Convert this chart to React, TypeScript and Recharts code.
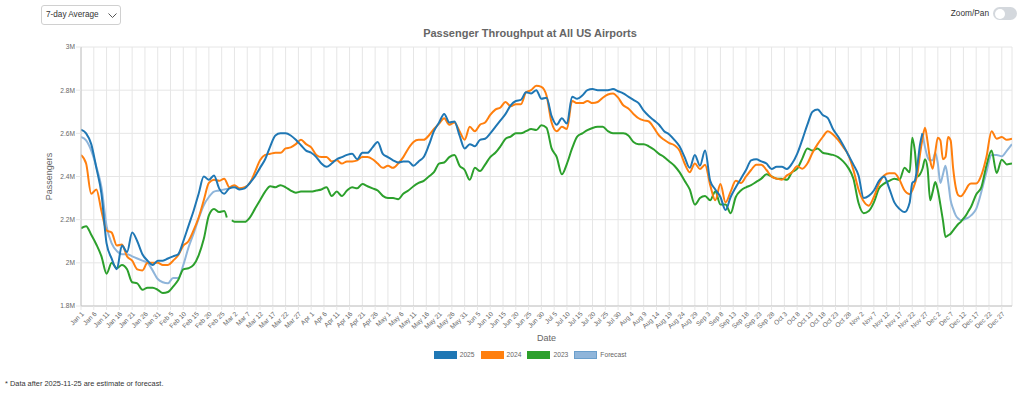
import React from 'react';
import { LineChart, Line, XAxis, YAxis, CartesianGrid, Legend } from 'recharts';

// ---------- axis data ----------
const tickDays = [0, 5, 10, 15, 20, 25, 30, 35, 40, 45, 50, 55, 60, 65, 70, 75, 80, 85, 90, 95, 100, 105, 110, 115, 120, 125, 130, 135, 140, 145, 150, 155, 160, 165, 170, 175, 180, 185, 190, 195, 200, 205, 210, 215, 220, 225, 230, 235, 240, 245, 250, 255, 260, 265, 270, 275, 280, 285, 290, 295, 300, 305, 310, 315, 320, 325, 330, 335, 340, 345, 350, 355, 360];
const tickLabels = [
  'Jan 1', 'Jan 6', 'Jan 11', 'Jan 16', 'Jan 21', 'Jan 26', 'Jan 31',
  'Feb 5', 'Feb 10', 'Feb 15', 'Feb 20', 'Feb 25',
  'Mar 2', 'Mar 7', 'Mar 12', 'Mar 17', 'Mar 22', 'Mar 27',
  'Apr 1', 'Apr 6', 'Apr 11', 'Apr 16', 'Apr 21', 'Apr 26',
  'May 1', 'May 6', 'May 11', 'May 16', 'May 21', 'May 26', 'May 31',
  'Jun 5', 'Jun 10', 'Jun 15', 'Jun 20', 'Jun 25', 'Jun 30',
  'Jul 5', 'Jul 10', 'Jul 15', 'Jul 20', 'Jul 25', 'Jul 30',
  'Aug 4', 'Aug 9', 'Aug 14', 'Aug 19', 'Aug 24', 'Aug 29',
  'Sep 3', 'Sep 8', 'Sep 13', 'Sep 18', 'Sep 23', 'Sep 28',
  'Oct 3', 'Oct 8', 'Oct 13', 'Oct 18', 'Oct 23', 'Oct 28',
  'Nov 2', 'Nov 7', 'Nov 12', 'Nov 17', 'Nov 22', 'Nov 27',
  'Dec 2', 'Dec 7', 'Dec 12', 'Dec 17', 'Dec 22', 'Dec 27',
];
const yTicks = [1.8, 2, 2.2, 2.4, 2.6, 2.8, 3];

// ---------- series data: [day of year (0 = Jan 1), passengers in millions] ----------
const pax2025: [number, number][] = [
  [0, 2.617], [2, 2.6], [4, 2.55], [6, 2.44], [8, 2.32], [10, 2.09], [12, 2.02], [14, 1.97], [16, 2.08], [18, 2.05],
  [20, 2.14], [22, 2.1], [24, 2.04], [26, 2.01], [28, 1.99], [30, 2.01], [32, 2.01], [34, 2.02], [36, 2.03], [38, 2.04],
  [40, 2.1], [42, 2.17], [44, 2.24], [46, 2.32], [48, 2.4], [50, 2.385], [52, 2.405], [54, 2.345], [56, 2.32], [58, 2.345],
  [60, 2.35], [62, 2.34], [64, 2.345], [66, 2.37], [68, 2.4], [70, 2.44], [72, 2.48], [74, 2.54], [76, 2.59], [78, 2.6],
  [80, 2.6], [82, 2.59], [84, 2.57], [86, 2.545], [88, 2.52], [90, 2.51], [92, 2.49], [94, 2.46], [96, 2.445], [98, 2.46],
  [100, 2.48], [102, 2.49], [104, 2.5], [106, 2.505], [108, 2.48], [110, 2.51], [112, 2.51], [114, 2.535], [116, 2.56], [118, 2.505],
  [120, 2.49], [122, 2.475], [124, 2.465], [126, 2.47], [128, 2.47], [130, 2.45], [132, 2.47], [134, 2.49], [136, 2.545], [138, 2.61],
  [140, 2.65], [142, 2.69], [144, 2.65], [146, 2.655], [148, 2.59], [150, 2.53], [152, 2.55], [154, 2.54], [156, 2.57], [158, 2.575],
  [160, 2.6], [162, 2.63], [164, 2.66], [166, 2.69], [168, 2.73], [170, 2.75], [172, 2.755], [174, 2.79], [176, 2.785], [178, 2.8],
  [180, 2.76], [182, 2.765], [184, 2.68], [186, 2.64], [188, 2.67], [190, 2.645], [192, 2.77], [194, 2.76], [196, 2.775], [198, 2.8],
  [200, 2.805], [202, 2.8], [204, 2.8], [206, 2.8], [208, 2.805], [210, 2.795], [212, 2.785], [214, 2.77], [216, 2.755], [218, 2.74],
  [220, 2.705], [222, 2.68], [224, 2.66], [226, 2.64], [228, 2.61], [230, 2.595], [232, 2.57], [234, 2.54], [236, 2.49], [238, 2.44],
  [240, 2.5], [242, 2.45], [244, 2.52], [246, 2.38], [248, 2.34], [250, 2.305], [252, 2.245], [254, 2.305], [256, 2.35], [258, 2.39],
  [260, 2.43], [262, 2.475], [264, 2.48], [266, 2.47], [268, 2.46], [270, 2.435], [272, 2.445], [274, 2.445], [276, 2.435], [278, 2.46],
  [280, 2.505], [282, 2.57], [284, 2.64], [286, 2.7], [288, 2.71], [290, 2.685], [292, 2.67], [294, 2.62], [296, 2.585], [298, 2.545],
  [300, 2.5], [302, 2.455], [304, 2.405], [306, 2.3], [308, 2.31], [310, 2.335], [312, 2.38], [314, 2.4], [316, 2.345], [318, 2.28],
  [320, 2.25], [322, 2.235], [324, 2.28], [325, 2.37], [326, 2.38], [327, 2.45], [328, 2.545], [329, 2.6],
];

const pax2024: [number, number][] = [
  [0, 2.5], [2, 2.46], [4, 2.32], [6, 2.34], [8, 2.24], [10, 2.15], [12, 2.14], [14, 2.08], [16, 2.085], [18, 2.03],
  [20, 2.01], [22, 1.97], [24, 1.965], [26, 2.0], [28, 2.0], [30, 2.0], [32, 1.99], [34, 1.99], [36, 2.01], [38, 2.035],
  [40, 2.08], [42, 2.1], [44, 2.15], [46, 2.21], [48, 2.29], [50, 2.37], [52, 2.385], [54, 2.38], [56, 2.39], [58, 2.35],
  [60, 2.36], [62, 2.345], [64, 2.35], [66, 2.37], [68, 2.42], [70, 2.475], [72, 2.5], [74, 2.505], [76, 2.51], [78, 2.51],
  [80, 2.53], [82, 2.535], [84, 2.55], [86, 2.57], [88, 2.55], [90, 2.535], [92, 2.5], [94, 2.49], [96, 2.49], [98, 2.47],
  [100, 2.475], [102, 2.46], [104, 2.47], [106, 2.47], [108, 2.475], [110, 2.49], [112, 2.49], [114, 2.48], [116, 2.46], [118, 2.44],
  [120, 2.45], [122, 2.44], [124, 2.46], [126, 2.49], [128, 2.53], [130, 2.56], [132, 2.57], [134, 2.57], [136, 2.59], [138, 2.62],
  [140, 2.645], [142, 2.67], [144, 2.64], [146, 2.65], [148, 2.61], [150, 2.57], [152, 2.63], [154, 2.61], [156, 2.64], [158, 2.65],
  [160, 2.685], [162, 2.71], [164, 2.72], [166, 2.745], [168, 2.725], [170, 2.735], [172, 2.735], [174, 2.79], [176, 2.8], [178, 2.82],
  [180, 2.815], [182, 2.775], [184, 2.65], [186, 2.61], [188, 2.63], [190, 2.62], [192, 2.75], [194, 2.74], [196, 2.74], [198, 2.75],
  [200, 2.74], [202, 2.745], [204, 2.765], [206, 2.78], [208, 2.785], [210, 2.765], [212, 2.73], [214, 2.715], [216, 2.69], [218, 2.67],
  [220, 2.66], [222, 2.655], [224, 2.625], [226, 2.59], [228, 2.57], [230, 2.555], [232, 2.545], [234, 2.52], [236, 2.46], [238, 2.42],
  [240, 2.46], [242, 2.435], [244, 2.455], [246, 2.36], [248, 2.29], [250, 2.365], [252, 2.28], [254, 2.33], [256, 2.38], [258, 2.37],
  [260, 2.4], [262, 2.43], [264, 2.455], [266, 2.455], [268, 2.43], [270, 2.4], [272, 2.39], [274, 2.385], [276, 2.405], [278, 2.42],
  [280, 2.447], [282, 2.436], [284, 2.46], [286, 2.51], [288, 2.55], [290, 2.583], [292, 2.61], [294, 2.595], [296, 2.57], [298, 2.537],
  [300, 2.5], [302, 2.43], [304, 2.34], [306, 2.285], [308, 2.265], [310, 2.305], [312, 2.367], [314, 2.405], [316, 2.415], [318, 2.415],
  [320, 2.385], [322, 2.335], [324, 2.318], [325, 2.335], [326, 2.367], [327, 2.41], [328, 2.5], [329, 2.575], [330, 2.626], [331, 2.56],
  [332, 2.475], [333, 2.436], [334, 2.513], [335, 2.58], [336, 2.567], [337, 2.48], [338, 2.49], [339, 2.583], [340, 2.567], [341, 2.436],
  [342, 2.35], [343, 2.313], [344, 2.308], [345, 2.32], [346, 2.34], [347, 2.36], [348, 2.367], [350, 2.367], [352, 2.405], [354, 2.49],
  [356, 2.61], [358, 2.575], [360, 2.583], [362, 2.57], [364, 2.575],
];

const pax2023: [number, number | null][] = [
  [0, 2.16], [2, 2.17], [4, 2.13], [6, 2.085], [8, 2.03], [10, 1.95], [12, 2.0], [14, 1.975], [16, 1.99], [18, 1.97],
  [20, 1.91], [22, 1.905], [24, 1.875], [26, 1.885], [28, 1.885], [30, 1.875], [32, 1.86], [34, 1.865], [36, 1.89], [38, 1.92],
  [40, 1.97], [42, 1.975], [44, 1.99], [46, 2.035], [48, 2.11], [50, 2.22], [52, 2.25], [54, 2.235], [56, 2.24], [57, 2.21],
  [58, null], [59, 2.197], [60, 2.19], [62, 2.19], [64, 2.19], [66, 2.21], [68, 2.25], [70, 2.29], [72, 2.33], [74, 2.355],
  [76, 2.35], [78, 2.36], [80, 2.35], [82, 2.335], [84, 2.325], [86, 2.33], [88, 2.33], [90, 2.33], [92, 2.335], [94, 2.34],
  [96, 2.35], [98, 2.31], [100, 2.33], [102, 2.31], [104, 2.335], [106, 2.35], [108, 2.345], [110, 2.365], [112, 2.355], [114, 2.345],
  [116, 2.335], [118, 2.31], [120, 2.3], [122, 2.3], [124, 2.295], [126, 2.32], [128, 2.335], [130, 2.355], [132, 2.37], [134, 2.38],
  [136, 2.4], [138, 2.42], [140, 2.46], [142, 2.465], [144, 2.49], [146, 2.5], [148, 2.45], [150, 2.43], [152, 2.385], [154, 2.44],
  [156, 2.425], [158, 2.455], [160, 2.49], [162, 2.51], [164, 2.54], [166, 2.575], [168, 2.585], [170, 2.6], [172, 2.6], [174, 2.61],
  [176, 2.62], [178, 2.615], [180, 2.637], [182, 2.626], [184, 2.53], [186, 2.49], [188, 2.41], [190, 2.46], [192, 2.53], [194, 2.585],
  [196, 2.6], [198, 2.615], [200, 2.625], [202, 2.63], [204, 2.63], [206, 2.61], [208, 2.6], [210, 2.6], [212, 2.6], [214, 2.59],
  [216, 2.56], [218, 2.55], [220, 2.55], [222, 2.54], [224, 2.525], [226, 2.505], [228, 2.49], [230, 2.47], [232, 2.45], [234, 2.42],
  [236, 2.38], [238, 2.34], [240, 2.27], [242, 2.3], [244, 2.31], [246, 2.29], [248, 2.33], [250, 2.27], [252, 2.27], [254, 2.23],
  [256, 2.305], [258, 2.335], [260, 2.35], [262, 2.36], [264, 2.375], [266, 2.39], [268, 2.41], [270, 2.4], [272, 2.39], [274, 2.39],
  [276, 2.385], [278, 2.42], [280, 2.436], [282, 2.483], [284, 2.53], [286, 2.52], [288, 2.53], [290, 2.51], [292, 2.505], [294, 2.5],
  [296, 2.49], [298, 2.47], [300, 2.44], [302, 2.39], [304, 2.277], [306, 2.23], [308, 2.24], [310, 2.28], [312, 2.344], [314, 2.367],
  [316, 2.38], [318, 2.39], [320, 2.385], [322, 2.44], [324, 2.42], [325, 2.58], [326, 2.52], [327, 2.4], [328, 2.41], [329, 2.436],
  [330, 2.48], [331, 2.436], [332, 2.29], [333, 2.33], [334, 2.375], [335, 2.336], [336, 2.27], [337, 2.197], [338, 2.12], [339, 2.127],
  [340, 2.135], [341, 2.15], [342, 2.166], [343, 2.18], [344, 2.19], [345, 2.205], [346, 2.22], [347, 2.24], [348, 2.26], [350, 2.317],
  [352, 2.35], [354, 2.45], [356, 2.52], [358, 2.416], [360, 2.478], [362, 2.456], [364, 2.46],
];

const forecastEarly: [number, number][] = [
  [0, 2.583], [2, 2.567], [4, 2.52], [6, 2.445], [8, 2.35], [10, 2.17], [12, 2.09], [14, 2.055], [16, 2.04], [18, 2.04],
  [20, 2.03], [22, 2.02], [24, 2.01], [26, 2.0], [28, 1.965], [30, 1.925], [32, 1.91], [34, 1.905], [36, 1.93], [38, 1.93],
  [40, 1.99], [42, 2.07], [44, 2.135], [46, 2.205], [48, 2.267], [50, 2.305], [52, 2.33], [54, 2.335], [56, 2.34], [58, 2.345],
];

const forecastLate: [number, number][] = [
  [329, 2.6], [330, 2.536], [331, 2.49], [332, 2.475], [333, 2.475], [334, 2.51], [335, 2.46], [336, 2.37], [337, 2.41], [338, 2.45],
  [339, 2.38], [340, 2.29], [341, 2.25], [342, 2.22], [343, 2.205], [344, 2.197], [345, 2.2], [346, 2.205], [347, 2.21], [348, 2.22],
  [350, 2.25], [352, 2.328], [354, 2.42], [356, 2.5], [358, 2.5], [360, 2.494], [362, 2.52], [364, 2.55],
];

const seriesNames = ['2025', '2024', '2023', 'Forecast'];
const seriesColors = ['#1f77b4', '#ff7f0e', '#2ca02c', '#8fb5da'];

const rows = (pairs: [number, number | null][]) => pairs.map(([day, v]) => ({ day, v }));

const FONT = "'Liberation Sans', Arial, Helvetica, sans-serif";
const TEXT = '#666';
const GRID = '#e6e6e6';

const LegendBox = () => (
  <div style={{ display: 'flex', justifyContent: 'center', alignItems: 'center', height: 12, fontFamily: FONT }}>
    {seriesNames.map((name, i) => (
      <div key={name} style={{ display: 'flex', alignItems: 'center', marginRight: i < seriesNames.length - 1 ? 6 : 0 }}>
        <div
          style={{
            width: 21,
            height: 6,
            background: seriesColors[i],
            border: `1px solid ${i === 3 ? '#6a9fcc' : seriesColors[i]}`,
            marginRight: 3,
          }}
        />
        <span style={{ fontSize: 6.7, color: TEXT, lineHeight: '12px' }}>{name}</span>
      </div>
    ))}
  </div>
);

export default function App() {
  return (
    <div
      style={{
        position: 'absolute',
        left: 0,
        top: 0,
        width: 1024,
        height: 398,
        background: '#fff',
        fontFamily: FONT,
        overflow: 'hidden',
      }}
    >
      {/* dropdown */}
      <div
        style={{
          position: 'absolute',
          left: 41,
          top: 5,
          width: 80,
          height: 20,
          boxSizing: 'border-box',
          border: '1px solid #d0d0d0',
          borderRadius: 3,
          fontSize: 8.2,
          color: '#333',
          lineHeight: '18px',
          paddingLeft: 4,
        }}
      >
        7-day Average
        <svg width={9} height={6} style={{ position: 'absolute', left: 66, top: 7 }}>
          <polyline points="0.5,0.5 4.5,4.5 8.5,0.5" fill="none" stroke="#555" strokeWidth={1} />
        </svg>
      </div>

      {/* zoom/pan toggle */}
      <div style={{ position: 'absolute', left: 930, top: 8, width: 59, textAlign: 'right', fontSize: 8.3, color: '#333', lineHeight: '10px' }}>
        Zoom/Pan
      </div>
      <div style={{ position: 'absolute', left: 993, top: 7, width: 24, height: 13, borderRadius: 7, background: '#d4d8dd' }}>
        <div style={{ position: 'absolute', left: 1.5, top: 1.5, width: 10, height: 10, borderRadius: 5, background: '#fff' }} />
      </div>

      {/* title */}
      <div
        style={{
          position: 'absolute',
          left: 36,
          top: 26,
          width: 988,
          textAlign: 'center',
          fontSize: 11,
          fontWeight: 'bold',
          color: '#666',
          lineHeight: '14px',
        }}
      >
        Passenger Throughput at All US Airports
      </div>

      <div style={{ position: 'absolute', left: 0, top: 0 }}>
        <LineChart width={1024} height={398} margin={{ top: 47, right: 12, bottom: 37, left: 0 }}>
          <CartesianGrid stroke={GRID} strokeWidth={1} />
          <XAxis
            dataKey="day"
            type="number"
            domain={[0, 364]}
            ticks={tickDays}
            interval={0}
            allowDataOverflow
            tickFormatter={(d: number) => tickLabels[tickDays.indexOf(d)] ?? ''}
            height={43}
            angle={-45}
            textAnchor="end"
            tick={{ fontSize: 6.6, fill: TEXT }}
            tickSize={4}
            tickMargin={1}
            tickLine={{ stroke: GRID }}
            axisLine={{ stroke: '#c4c4c4' }}
            label={{ value: 'Date', position: 'insideBottom', offset: 8, fontSize: 9, fill: TEXT }}
          />
          <YAxis
            type="number"
            domain={[1.8, 3]}
            ticks={yTicks}
            interval={0}
            allowDataOverflow
            width={81}
            tickFormatter={(v: number) => `${v}M`}
            tick={{ fontSize: 6.6, fill: TEXT }}
            tickSize={5}
            tickMargin={1}
            tickLine={{ stroke: GRID }}
            axisLine={{ stroke: '#c4c4c4' }}
            label={{ value: 'Passengers', angle: -90, position: 'center', dx: 8, fontSize: 9, fill: TEXT }}
          />
          <Legend
            verticalAlign="bottom"
            height={12}
            wrapperStyle={{ left: 36, width: 988, top: 349, bottom: 'auto', height: 12 }}
            content={() => <LegendBox />}
          />
          <Line data={rows(forecastEarly)} dataKey="v" name="Forecast" type="monotone" stroke={seriesColors[3]} strokeWidth={2} dot={false} activeDot={false} isAnimationActive={false} legendType="none" />
          <Line data={rows(forecastLate)} dataKey="v" name="Forecast " type="monotone" stroke={seriesColors[3]} strokeWidth={2} dot={false} activeDot={false} isAnimationActive={false} legendType="none" />
          <Line data={rows(pax2023)} dataKey="v" name="2023" type="monotone" stroke={seriesColors[2]} strokeWidth={2} dot={false} activeDot={false} isAnimationActive={false} />
          <Line data={rows(pax2024)} dataKey="v" name="2024" type="monotone" stroke={seriesColors[1]} strokeWidth={2} dot={false} activeDot={false} isAnimationActive={false} />
          <Line data={rows(pax2025)} dataKey="v" name="2025" type="monotone" stroke={seriesColors[0]} strokeWidth={2} dot={false} activeDot={false} isAnimationActive={false} />
        </LineChart>
      </div>

      {/* footnote */}
      <div style={{ position: 'absolute', left: 5, top: 379, fontSize: 7.4, color: '#333', lineHeight: '10px' }}>
        * Data after 2025-11-25 are estimate or forecast.
      </div>
    </div>
  );
}
